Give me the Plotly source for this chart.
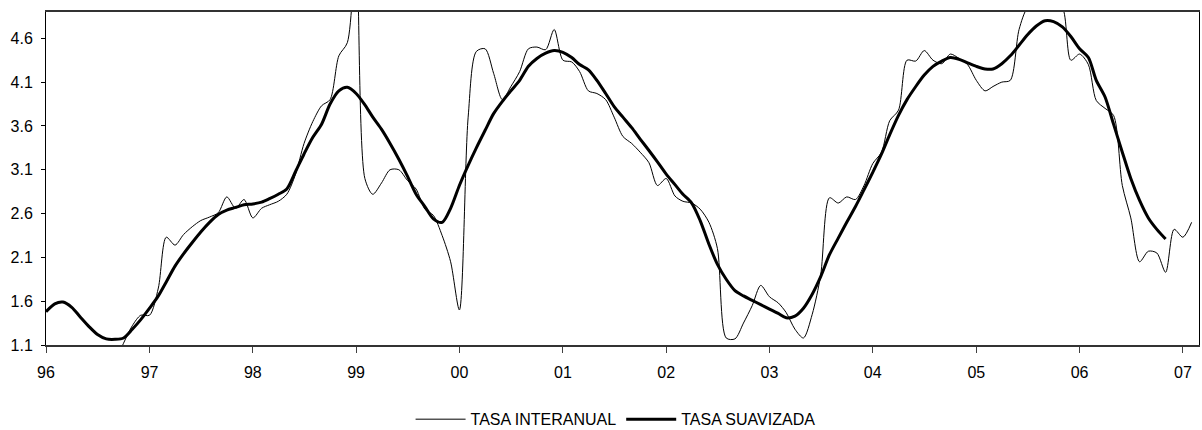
import pandas as pd
import plotly.graph_objects as go

# monthly observations, Jan 1996 .. Feb 2007 (None = no data)
interanual = [
    None, None, None, None, None, None, None, None, 0.90, 1.12,
    1.32, 1.44, 1.44, 1.75, 2.33, 2.24, 2.36, 2.45, 2.52, 2.56,
    2.61, 2.79, 2.66, 2.76, 2.55, 2.66, 2.70, 2.74, 2.82, 3.05,
    3.40, 3.65, 3.83, 3.90, 4.40, 4.55, 5.60, 3.00, 2.82, 2.95,
    3.10, 3.10, 2.98, 2.88, 2.65, 2.58, 2.35, 2.05, 1.50, 3.70,
    4.45, 4.48, 4.20, 3.90, 4.05, 4.22, 4.48, 4.50, 4.47, 4.70,
    4.35, 4.33, 4.22, 4.00, 3.97, 3.90, 3.70, 3.48, 3.40, 3.30,
    3.18, 2.92, 3.00, 2.80, 2.74, 2.72, 2.65, 2.50, 2.20, 1.18,
    1.17, 1.35, 1.55, 1.78, 1.65, 1.58, 1.47, 1.28, 1.18, 1.45,
    1.90, 2.78, 2.72, 2.79, 2.76, 2.92, 3.17, 3.30, 3.66, 3.78,
    4.35, 4.34, 4.46, 4.35, 4.31, 4.42, 4.37, 4.30, 4.12, 4.00,
    4.05, 4.10, 4.12, 4.70, 4.95, 5.00, 5.00, 4.98, 4.95, 4.35,
    4.42, 4.30, 3.89, 3.80, 3.72, 2.92, 2.55, 2.05, 2.17, 2.15,
    1.93, 2.42, 2.33, 2.50,
]

# smoothed trend, Jan 1996 .. Nov 2006
suavizada = [
    1.48, 1.57, 1.59, 1.53, 1.42, 1.31, 1.22, 1.17, 1.165, 1.18,
    1.28, 1.39, 1.52, 1.66, 1.82, 2.00, 2.14, 2.27, 2.39, 2.50,
    2.59, 2.64, 2.67, 2.70, 2.71, 2.73, 2.77, 2.82, 2.88, 3.08,
    3.28, 3.47, 3.62, 3.85, 4.00, 4.04, 3.97, 3.84, 3.70, 3.56,
    3.40, 3.22, 3.03, 2.82, 2.68, 2.54, 2.50, 2.66, 2.92, 3.15,
    3.35, 3.55, 3.74, 3.88, 4.00, 4.12, 4.28, 4.37, 4.43, 4.46,
    4.44, 4.38, 4.30, 4.24, 4.12, 3.97, 3.82, 3.70, 3.58, 3.45,
    3.32, 3.19, 3.05, 2.93, 2.82, 2.72, 2.52, 2.25, 2.02, 1.85,
    1.72, 1.66, 1.61, 1.56, 1.51, 1.46, 1.41, 1.43, 1.52, 1.68,
    1.88, 2.13, 2.32, 2.50, 2.68, 2.87, 3.07, 3.28, 3.50, 3.72,
    3.90, 4.05, 4.18, 4.28, 4.34, 4.38, 4.36, 4.32, 4.28, 4.25,
    4.25, 4.31, 4.40, 4.52, 4.64, 4.74, 4.80, 4.79, 4.73, 4.62,
    4.48, 4.38, 4.12, 3.93, 3.62, 3.30, 3.00, 2.75, 2.55, 2.42,
    2.31,
]

year_ticks = [str(y) for y in range(1996, 2008)]
year_labels = ["96", "97", "98", "99", "00", "01", "02", "03", "04", "05", "06", "07"]
y_ticks = [1.1, 1.6, 2.1, 2.6, 3.1, 3.6, 4.1, 4.6]

dates_a = pd.date_range("1996-01-01", periods=len(interanual), freq="MS")
dates_s = pd.date_range("1996-01-01", periods=len(suavizada), freq="MS")

fig = go.Figure()

fig.add_trace(go.Scatter(
    x=dates_a, y=interanual,
    mode="lines", name="TASA INTERANUAL",
    line=dict(color="black", width=1, shape="spline", smoothing=0.8),
    connectgaps=False,
))
fig.add_trace(go.Scatter(
    x=dates_s, y=suavizada,
    mode="lines", name="TASA SUAVIZADA",
    line=dict(color="black", width=3, shape="spline", smoothing=0.8),
))

fig.update_layout(
    width=1202, height=430,
    margin=dict(l=46, r=3, t=12, b=85, autoexpand=False),
    plot_bgcolor="white", paper_bgcolor="white",
    font=dict(family="Liberation Sans, Arial, sans-serif", size=16, color="black"),
    showlegend=True,
    legend=dict(
        orientation="h", x=0.494, xanchor="center", y=-0.172, yanchor="top",
        font=dict(size=16), itemwidth=50, tracegroupgap=0,
    ),
    xaxis=dict(
        type="date",
        range=["1996-01-01", "2007-02-27"],
        tickvals=year_ticks, ticktext=year_labels,
        ticks="outside", ticklen=6, tickcolor="#404040",
        ticklabelstandoff=6,
        showline=True, linecolor="#333333", linewidth=1.5, mirror=True,
        showgrid=False, zeroline=False, automargin=False,
    ),
    yaxis=dict(
        range=[1.1, 4.9],
        tickvals=y_ticks, ticktext=[f"{v:.1f}" for v in y_ticks],
        ticks="outside", ticklen=4, tickcolor="black",
        ticklabelstandoff=5,
        showline=True, linecolor="black", linewidth=1, mirror=True,
        showgrid=False, zeroline=False, automargin=False,
    ),
)

# drop the browser's default body margin so the figure sits at the page origin
fig.write_html(
    "out.html",
    config={"displayModeBar": False},
    post_script="document.body.style.margin='0';document.body.style.overflow='hidden';",
)
